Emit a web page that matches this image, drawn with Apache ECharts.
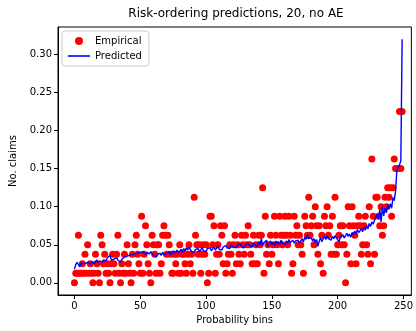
<!DOCTYPE html>
<html>
<head>
<meta charset="utf-8">
<script src="https://cdn.jsdelivr.net/npm/echarts@6/dist/echarts.min.js"></script>
<style>
  html, body { margin: 0; padding: 0; background: #fff; }
  #chart { width: 416px; height: 331px; }
</style>
</head>
<body>
<div id="chart"></div>
<script>
// observed claim rate per probability bin (red dots)
const empirical = [
  0, 0.0125, 0.0125, 0.0625, 0.0125, 0.0125, 0.025, 0.0125, 0.0375, 0.0125,
  0.05, 0.0125, 0.025, 0.0125, 0, 0.0125, 0.0375, 0.025, 0.0125, 0,
  0.0625, 0.05, 0.025, 0.0375, 0.0125, 0.025, 0.0125, 0, 0.025, 0.0375,
  0.025, 0.0125, 0.0375, 0.0625, 0.0125, 0, 0.025, 0.0125, 0.0375, 0.0125,
  0.05, 0.025, 0.0125, 0, 0.0375, 0.0125, 0.05, 0.0625, 0.0375, 0.025,
  0.0125, 0.0875, 0.0125, 0.0375, 0.075, 0.05, 0.025, 0.0125, 0, 0.0625,
  0.05, 0.0375, 0.0125, 0.05, 0.05, 0.0125, 0.025, 0.0625, 0.075, 0.0625,
  0.0375, 0.0625, 0.05, 0.0375, 0.0125, 0.0125, 0.0375, 0.025, 0.0375, 0.0125,
  0.05, 0.0125, 0.0375, 0.0375, 0.025, 0.0125, 0.0375, 0.05, 0.025, 0.0375,
  0.0125, 0.1125, 0.0625, 0.05, 0.0375, 0.05, 0.0125, 0.0375, 0.05, 0.0375,
  0.05, 0, 0.0125, 0.0875, 0.0875, 0.05, 0.075, 0.0125, 0.0375, 0.05,
  0.0375, 0.075, 0.0625, 0.025, 0.075, 0.0125, 0.025, 0.0375, 0.05, 0.0375,
  0.0125, 0.05, 0.0625, 0.025, 0.05, 0.0375, 0.025, 0.0625, 0.05, 0.0375,
  0.0625, 0.05, 0.075, 0.05, 0.0375, 0.025, 0.0625, 0.025, 0.05, 0.025,
  0.0625, 0.05, 0.0625, 0.125, 0.0125, 0.0875, 0.0375, 0.05, 0.025, 0.0625,
  0.0375, 0.05, 0.0875, 0.0625, 0.05, 0.025, 0.0875, 0.0625, 0.05, 0.0625,
  0.0875, 0.0625, 0.05, 0.0875, 0.0625, 0.0125, 0.025, 0.0875, 0.0625, 0.075,
  0.05, 0.0625, 0.05, 0.0375, 0.0125, 0.0875, 0.075, 0.0625, 0.1125, 0.0625,
  0.075, 0.0875, 0.05, 0.1, 0.075, 0.0375, 0.075, 0.025, 0.0625, 0.0125,
  0.0875, 0.075, 0.1, 0.0625, 0.075, 0.0375, 0.0875, 0.0375, 0.1125, 0.0375,
  0.05, 0.0625, 0.075, 0.05, 0.075, 0.05, 0, 0.0375, 0.1, 0.075,
  0.025, 0.1, 0.075, 0.0625, 0.025, 0.075, 0.0875, 0.075, 0.0375, 0.05,
  0.075, 0.0875, 0.05, 0.0375, 0.1, 0.025, 0.1625, 0.0875, 0.0375, 0.1125,
  0.1125, 0.0875, 0.075, 0.1, 0.0625, 0.075, 0.1125, 0.1, 0.125, 0.1125,
  0.125, 0.0875, 0.125, 0.1625, 0.15, 0.15, 0.15, 0.225, 0.15, 0.225
];

// model prediction per bin (blue line)
const predicted = [
  0.018, 0.024, 0.027, 0.025, 0.021, 0.026, 0.024, 0.025, 0.023, 0.026,
  0.025, 0.027, 0.024, 0.026, 0.028, 0.025, 0.027, 0.030, 0.026, 0.029,
  0.031, 0.027, 0.030, 0.032, 0.029, 0.033, 0.031, 0.036, 0.030, 0.032,
  0.031, 0.029, 0.033, 0.030, 0.028, 0.027, 0.031, 0.029, 0.034, 0.032,
  0.035, 0.033, 0.036, 0.034, 0.037, 0.035, 0.038, 0.036, 0.039, 0.037,
  0.040, 0.038, 0.041, 0.039, 0.037, 0.040, 0.042, 0.038, 0.041, 0.039,
  0.036, 0.038, 0.034, 0.037, 0.035, 0.039, 0.036, 0.040, 0.037, 0.035,
  0.038, 0.036, 0.041, 0.037, 0.039, 0.042, 0.038, 0.040, 0.043, 0.039,
  0.041, 0.044, 0.040, 0.045, 0.042, 0.046, 0.043, 0.047, 0.044, 0.041,
  0.043, 0.040, 0.044, 0.042, 0.045, 0.041, 0.043, 0.046, 0.042, 0.044,
  0.041, 0.045, 0.043, 0.046, 0.042, 0.044, 0.047, 0.043, 0.045, 0.048,
  0.044, 0.046, 0.043, 0.047, 0.045, 0.049, 0.046, 0.048, 0.045, 0.050,
  0.051, 0.047, 0.049, 0.046, 0.050, 0.048, 0.051, 0.047, 0.049, 0.046,
  0.050, 0.048, 0.052, 0.049, 0.051, 0.047, 0.053, 0.050, 0.052, 0.048,
  0.054, 0.050, 0.058, 0.049, 0.053, 0.051, 0.056, 0.048, 0.052, 0.055,
  0.050, 0.053, 0.049, 0.055, 0.051, 0.054, 0.050, 0.056, 0.052, 0.054,
  0.050, 0.055, 0.052, 0.057, 0.053, 0.051, 0.056, 0.052, 0.055, 0.053,
  0.056, 0.052, 0.055, 0.058, 0.054, 0.060, 0.057, 0.063, 0.058, 0.056,
  0.059, 0.055, 0.058, 0.053, 0.057, 0.048, 0.055, 0.059, 0.054, 0.058,
  0.061, 0.057, 0.062, 0.058, 0.060, 0.056, 0.061, 0.058, 0.062, 0.059,
  0.057, 0.054, 0.060, 0.058, 0.063, 0.059, 0.062, 0.065, 0.061, 0.064,
  0.060, 0.066, 0.063, 0.068, 0.064, 0.070, 0.066, 0.064, 0.071, 0.067,
  0.073, 0.069, 0.075, 0.071, 0.078, 0.074, 0.080, 0.077, 0.082, 0.086,
  0.090, 0.084, 0.096, 0.080, 0.100, 0.088, 0.098, 0.092, 0.103, 0.097,
  0.104, 0.098, 0.112, 0.108, 0.120, 0.148, 0.150, 0.155, 0.160, 0.320
];

const xTicks = [0, 50, 100, 150, 200, 250];
const yTicks = [0, 0.05, 0.1, 0.15, 0.2, 0.25, 0.3];

const font = "DejaVu Sans";
const chart = echarts.init(document.getElementById("chart"), null, { renderer: "canvas" });

const axisCommon = {
  axisLine: { onZero: false, lineStyle: { color: "#000", width: 1 } },
  axisTick: { inside: false, length: 4, lineStyle: { color: "#000", width: 1 } },
  splitLine: { show: false },
  nameLocation: "middle",
  nameTextStyle: { fontFamily: font, fontSize: 10, color: "#000" },
};

const option = {
  animation: false,
  title: {
    text: "Risk-ordering predictions, 20, no AE",
    left: 231,
    top: 3,
    textAlign: "center",
    textStyle: { fontFamily: font, fontSize: 12, fontWeight: "normal", color: "#000" },
  },
  legend: {
    orient: "vertical",
    left: 62,
    top: 31,
    padding: [5, 7, 5, 6],
    itemGap: 5,
    itemWidth: 22,
    itemHeight: 8,
    backgroundColor: "rgba(255,255,255,0.8)",
    borderColor: "#ccc",
    borderWidth: 1,
    borderRadius: 3,
    textStyle: { fontFamily: font, fontSize: 10, color: "#000" },
    data: [
      { name: "Empirical", icon: "circle" },
      {
        name: "Predicted",
        icon: "path://M0,0 M0,3.2 L22,3.2 L22,4.8 L0,4.8 Z M22,8",
        itemStyle: { borderWidth: 0 },
      },
    ],
  },
  grid: {
    left: 58,
    right: 1,
    top: 27,
    bottom: 36,
    show: true,
    borderColor: "#000",
    borderWidth: 1,
  },
  xAxis: {
    ...axisCommon,
    type: "value",
    min: -12.5,
    max: 256,
    name: "Probability bins",
    nameGap: 19,
    axisTick: { ...axisCommon.axisTick, customValues: xTicks },
    axisLabel: {
      customValues: xTicks,
      margin: 6,
      fontFamily: font,
      fontSize: 10,
      color: "#000",
    },
  },
  yAxis: {
    ...axisCommon,
    type: "value",
    min: -0.016,
    max: 0.336,
    name: "No. claims",
    nameGap: 40,
    axisTick: { ...axisCommon.axisTick, customValues: yTicks },
    axisLabel: {
      customValues: yTicks,
      margin: 6,
      fontFamily: font,
      fontSize: 10,
      color: "#000",
      formatter: (v) => v.toFixed(2),
    },
  },
  series: [
    {
      name: "Empirical",
      type: "scatter",
      data: empirical.map((v, i) => [i, v]),
      symbol: "circle",
      symbolSize: 7,
      itemStyle: { color: "#ff0000", opacity: 1 },
      z: 2,
    },
    {
      name: "Predicted",
      type: "line",
      data: predicted.map((v, i) => [i, v]),
      showSymbol: false,
      symbol: "none",
      lineStyle: { color: "#0000ff", width: 1.4 },
      itemStyle: { color: "#0000ff" },
      z: 3,
    },
  ],
};

chart.setOption(option);
window.addEventListener("resize", chart.resize);
</script>
</body>
</html>
